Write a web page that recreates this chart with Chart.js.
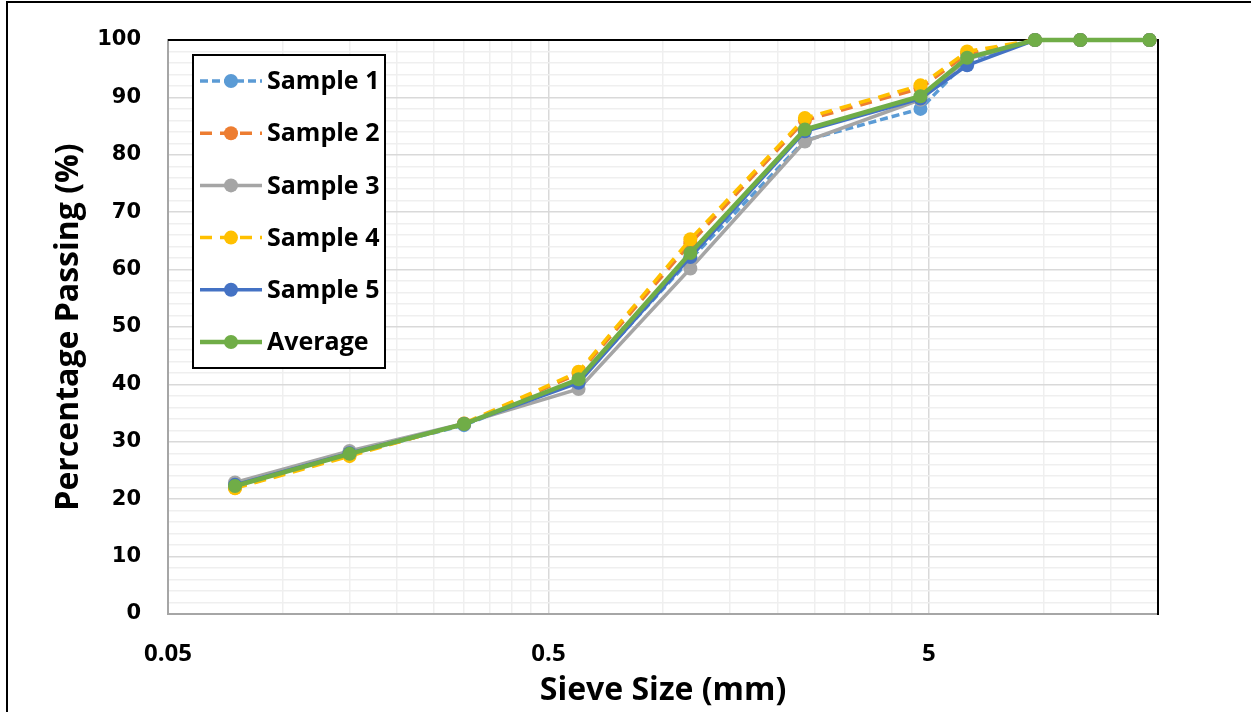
<!DOCTYPE html>
<html>
<head>
<meta charset="utf-8">
<title>Sieve analysis</title>
<script src="https://cdn.jsdelivr.net/npm/chart.js@4.4.1/dist/chart.umd.min.js"></script>
<style>
    html, body { margin: 0; padding: 0; background: #fff; }
    .wrap { width: 1251px; height: 712px; }
</style>
</head>
<body>
<div class="wrap"><canvas id="gradingChart" width="1251" height="712"></canvas></div>
<script>
// sieve sizes (mm) and percentage passing
const sieveSizes = [0.075, 0.15, 0.3, 0.6, 1.18, 2.36, 4.75, 6.3, 9.5, 12.5, 19];
const sample1 = [22.3, 27.9, 32.9, 40.6, 61.8, 82.5, 88.0, 96.4, 100, 100, 100];
const sample2 = [22.0, 27.7, 33.1, 41.9, 64.6, 86.0, 91.6, 97.6, 100, 100, 100];
const sample3 = [22.9, 28.4, 33.2, 39.2, 60.2, 82.3, 89.6, 96.7, 100, 100, 100];
const sample4 = [21.9, 27.5, 33.2, 42.2, 65.3, 86.4, 92.1, 98.0, 100, 100, 100];
const sample5 = [22.5, 28.0, 33.1, 40.3, 62.2, 84.1, 89.8, 95.6, 100, 100, 100];
const average = [22.3, 27.9, 33.1, 40.9, 62.9, 84.4, 90.2, 96.9, 100, 100, 100];

const seriesNames = ['Sample 1', 'Sample 2', 'Sample 3', 'Sample 4', 'Sample 5', 'Average'];
const seriesColors = ['#5B9BD5', '#ED7D31', '#A5A5A5', '#FFC000', '#4472C4', '#70AD47'];
const seriesDashes = [[8, 4], [12, 8], [], [12, 8], [], []];

const xMajorTicks = [0.05, 0.5, 5];
const xTickLabels = ['0.05', '0.5', '5'];
const xMax = 20;

// minor grid every 1/10 decade step like Excel (0.05, 0.1, 0.15 ...)
const xGridValues = [];
xMajorTicks.forEach(base => {
    for (let k = 1; k <= 9; k++) {
        const v = base * k;
        if (v <= xMax + 1e-9) xGridValues.push(v);
    }
});

const isMajorX = (v) => xMajorTicks.some(m => Math.abs(m - v) < 1e-9);

const allSeries = [sample1, sample2, sample3, sample4, sample5, average];
const markerRadius = 7;

const datasets = allSeries.map((values, i) => ({
    label: seriesNames[i],
    data: values.map((y, j) => ({ x: sieveSizes[j], y: y })),
    borderColor: seriesColors[i],
    backgroundColor: seriesColors[i],
    borderWidth: i === 5 ? 4.5 : 3.5,
    borderDash: seriesDashes[i],
    pointRadius: markerRadius,
    pointBorderWidth: 0,
    pointBackgroundColor: seriesColors[i],
    pointHoverRadius: markerRadius,
    tension: 0,
    clip: false,
    order: 5 - i
}));

const plotFrame = {
    id: 'plotFrame',
    beforeDatasetsDraw(chart) {
        const { ctx, chartArea: a } = chart;
        ctx.save();
        ctx.strokeStyle = '#000';
        ctx.lineWidth = 2;
        ctx.beginPath();
        ctx.moveTo(a.left, a.top);
        ctx.lineTo(a.right, a.top);
        ctx.lineTo(a.right, a.bottom + 1);
        ctx.stroke();
        ctx.restore();
    },
    afterDraw(chart) {
        // outer picture frame (only top and left are visible in the figure)
        const ctx = chart.ctx;
        ctx.save();
        ctx.strokeStyle = '#000';
        ctx.lineWidth = 2;
        ctx.beginPath();
        ctx.moveTo(7, chart.height);
        ctx.lineTo(7, 2);
        ctx.lineTo(chart.width, 2);
        ctx.stroke();
        ctx.restore();
    }
};

const insideLegend = {
    id: 'insideLegend',
    afterDraw(chart) {
        const { ctx, chartArea: a } = chart;
        const boxX = a.left + 25, boxY = a.top + 15, boxW = 192, boxH = 313;
        ctx.save();
        ctx.fillStyle = '#fff';
        ctx.fillRect(boxX, boxY, boxW, boxH);
        ctx.strokeStyle = '#000';
        ctx.lineWidth = 2;
        ctx.strokeRect(boxX, boxY, boxW, boxH);

        chart.data.datasets.forEach((ds, i) => {
            const cy = boxY + 26 + i * 52.2;
            ctx.strokeStyle = ds.borderColor;
            ctx.lineWidth = ds.borderWidth;
            ctx.setLineDash(ds.borderDash);
            ctx.beginPath();
            ctx.moveTo(boxX + 7, cy);
            ctx.lineTo(boxX + 69, cy);
            ctx.stroke();
            ctx.setLineDash([]);
            ctx.fillStyle = ds.pointBackgroundColor;
            ctx.beginPath();
            ctx.arc(boxX + 38, cy, markerRadius, 0, Math.PI * 2);
            ctx.fill();

            ctx.fillStyle = '#000';
            ctx.font = "bold 25px 'Open Sans'";
            ctx.textBaseline = 'middle';
            ctx.textAlign = 'left';
            ctx.fillText(ds.label, boxX + 74, cy + 1);
        });
        ctx.restore();
    }
};

new Chart(document.getElementById('gradingChart'), {
    type: 'line',
    data: { datasets: datasets },
    options: {
        responsive: false,
        animation: false,
        layout: { padding: { top: 40, right: 93, left: 0, bottom: 0 } },
        plugins: {
            legend: { display: false },
            tooltip: { enabled: false }
        },
        scales: {
            x: {
                type: 'logarithmic',
                min: xMajorTicks[0],
                max: xMax,
                afterBuildTicks: (scale) => {
                    scale.ticks = xGridValues.map(v => ({ value: v }));
                },
                afterFit: (scale) => { scale.height = 98; },
                ticks: {
                    autoSkip: false,
                    maxRotation: 0,
                    padding: 26,
                    color: '#000',
                    font: { family: "'Open Sans'", size: 24, weight: 'bold' },
                    callback: (v) => {
                        const idx = xMajorTicks.findIndex(m => Math.abs(m - v) < 1e-9);
                        return idx >= 0 ? xTickLabels[idx] : '';
                    }
                },
                grid: {
                    drawTicks: false,
                    lineWidth: 1.5,
                    color: (c) => (c.tick && isMajorX(c.tick.value)) ? '#d9d9d9' : '#efefef'
                },
                border: { color: '#a6a6a6', width: 2 },
                title: {
                    display: true,
                    text: 'Sieve Size (mm)',
                    color: '#000',
                    font: { family: "'Open Sans'", size: 32, weight: 'bold' },
                    padding: { top: 0, bottom: 2 }
                }
            },
            y: {
                min: 0,
                max: 100,
                afterFit: (scale) => { scale.width = 168; },
                ticks: {
                    stepSize: 2,
                    autoSkip: false,
                    padding: 27,
                    color: '#000',
                    font: { family: "'DejaVu Sans'", size: 21, weight: 'bold' },
                    callback: (v) => (v % 10 === 0 ? v : '')
                },
                grid: {
                    drawTicks: false,
                    lineWidth: 1.5,
                    color: (c) => (c.tick && c.tick.value % 10 === 0) ? '#d9d9d9' : '#efefef'
                },
                border: { color: '#a6a6a6', width: 2 },
                title: {
                    display: true,
                    text: 'Percentage Passing (%)',
                    color: '#000',
                    font: { family: "'Open Sans'", size: 32, weight: 'bold' },
                    padding: { top: 50, bottom: 0 }
                }
            }
        }
    },
    plugins: [plotFrame, insideLegend]
});
</script>
</body>
</html>
